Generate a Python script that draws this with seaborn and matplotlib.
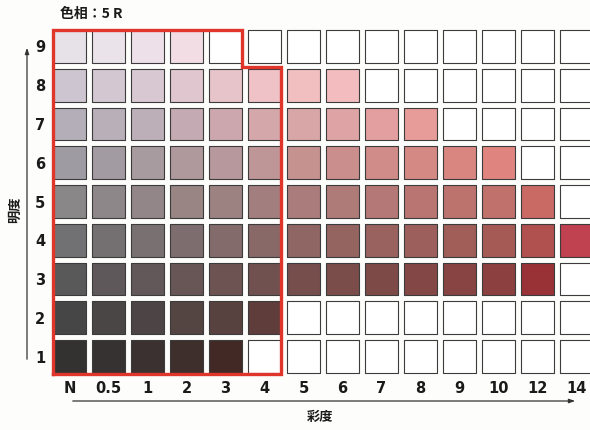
import numpy as np
import pandas as pd
import seaborn as sns
import matplotlib.pyplot as plt

# chroma columns and value rows of the 5R page
chroma_labels = ["N", "0.5", "1", "2", "3", "4", "5", "6", "7", "8", "9", "10", "12", "14"]
value_levels = [9, 8, 7, 6, 5, 4, 3, 2, 1]

# colour chips per value row, left to right (None = no chip, drawn empty)
row_9 = ["#e6e2e8", "#ebe3ea", "#eee0e9", "#f2dde5", None, None, None, None, None, None, None, None, None, None]
row_8 = ["#cdc6d0", "#d3c8d2", "#d8c8d2", "#e0c6cf", "#e7c4ca", "#eec2c6", "#f2bfc1", "#f3bcbe", None, None, None, None, None, None]
row_7 = ["#b3aeb7", "#b8afb8", "#bdafb7", "#c4aab2", "#cca8ae", "#d4a7ab", "#d9a6a8", "#dea3a4", "#e39f9f", "#e89c99", None, None, None, None]
row_6 = ["#9f9ba3", "#a39ba2", "#a89ba0", "#b0999d", "#b7989c", "#bf9697", "#c59290", "#ca8e8c", "#cf8c88", "#d48984", "#d98680", "#df847e", None, None]
row_5 = ["#8a8789", "#8d8789", "#928688", "#988584", "#9d8282", "#a27e7e", "#aa7c7b", "#af7b79", "#b47876", "#b87572", "#bc736e", "#c0716b", "#c96a65", None]
row_4 = ["#717072", "#747072", "#797071", "#7e6d6e", "#846b6b", "#896868", "#8f6664", "#946461", "#99625e", "#9d5f5b", "#a15d57", "#a55a55", "#b0504f", "#c0414f"]
row_3 = ["#5a595a", "#5e585a", "#625859", "#685656", "#6d5453", "#715150", "#764f4d", "#7a4d4a", "#7e4a47", "#834745", "#874442", "#8c403f", "#983237", None]
row_2 = ["#474646", "#4a4645", "#4d4545", "#544442", "#584240", "#5f3d3a", None, None, None, None, None, None, None, None]
row_1 = ["#343231", "#363231", "#3a3130", "#3e2e2c", "#432926", None, None, None, None, None, None, None, None, None]
rows = [row_9, row_8, row_7, row_6, row_5, row_4, row_3, row_2, row_1]

records = []
for v, row in zip(value_levels, rows):
    for ci, c in enumerate(row):
        records.append((ci, v, c if c else "#ffffff"))
df = pd.DataFrame(records, columns=["chroma", "value", "color"])

W, H = 590, 430
fig = plt.figure(figsize=(W / 100, H / 100), dpi=100, facecolor="#fdfdfb")
ax = fig.add_axes([50 / W, 54 / H, 540 / W, 349 / H])
ax.set_facecolor("#fdfdfb")

palette = {c: c for c in df["color"].unique()}
sns.scatterplot(data=df, x="chroma", y="value", hue="color", palette=palette,
                marker="s", s=560, edgecolor="#3c3c3c", linewidth=0.8,
                legend=False, ax=ax, zorder=2)

ax.set_xlim(-0.5, -0.5 + 540 / 39)
ax.set_ylim(0.5, 9.5)

# red outline around the low-chroma zone
h = 0.43
ox = [-h, -h, 4 + h, 4 + h, 5 + h, 5 + h, -h]
oy = [1 - h - 0.03, 9 + h, 9 + h, 8 + h + 0.03, 8 + h + 0.03, 1 - h - 0.03, 1 - h - 0.03]
ax.plot(ox, oy, color="#e0352b", lw=2.4, zorder=3, clip_on=False, solid_joinstyle="miter")

ax.set_xticks(range(len(chroma_labels)))
ax.set_xticklabels(chroma_labels, fontsize=10.5, fontweight="bold", color="#1a1a1a")
ax.set_yticks(value_levels)
ax.set_yticklabels([str(v) for v in value_levels], fontsize=10.5, fontweight="bold", color="#1a1a1a")
ax.tick_params(length=0, pad=3.5)
ax.set_xlabel("")
ax.set_ylabel("")
for s in ax.spines.values():
    s.set_visible(False)

jp = ["Noto Sans CJK JP", "DejaVu Sans"]
fig.text(60 / W, 1 - 14 / H, "色相：5 R", family=jp, fontsize=10, fontweight="bold",
         ha="left", va="center", color="#1a1a1a")
fig.text(15 / W, 1 - 210 / H, "明度", family=jp, fontsize=9.5, fontweight="bold",
         rotation=90, ha="center", va="center", color="#1a1a1a")
fig.text(320 / W, 1 - 417 / H, "彩度", family=jp, fontsize=9.5, fontweight="bold",
         ha="center", va="center", color="#1a1a1a")

# axis arrows
arrow = dict(arrowstyle="-|>,head_length=0.35,head_width=0.12", color="#333333", lw=0.9)
ax.annotate("", xy=(27, H - 45), xytext=(27, H - 362), xycoords="figure pixels",
            textcoords="figure pixels", arrowprops=arrow)
ax.annotate("", xy=(578, H - 401), xytext=(70, H - 401), xycoords="figure pixels",
            textcoords="figure pixels", arrowprops=arrow)

fig.savefig("out.png", dpi=100, facecolor=fig.get_facecolor())
